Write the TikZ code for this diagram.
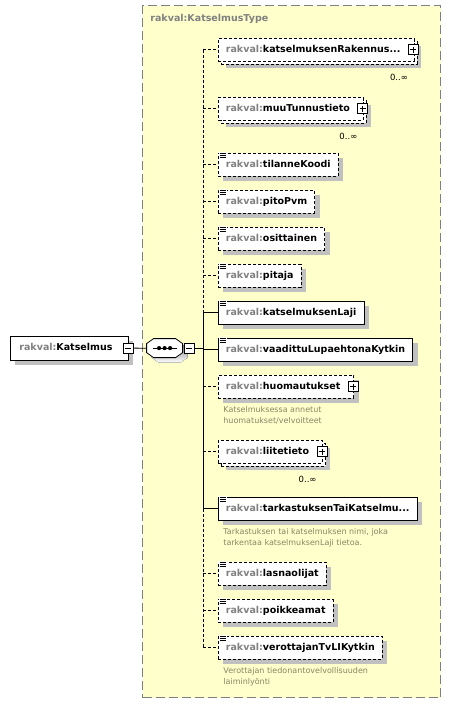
\documentclass[tikz,border=0pt]{standalone}
\usepackage{fontspec}
\setmainfont{DejaVu Sans}
\usetikzlibrary{positioning,shadows}
\definecolor{typefill}{RGB}{255,255,204}
\definecolor{pfx}{RGB}{128,128,128}
\definecolor{shade}{RGB}{192,192,192}
\definecolor{desccol}{RGB}{140,132,100}
\newcommand{\rkv}[1]{{\color{pfx}rakval:}#1}
\newcommand{\octpath}{(7,0) -- (29,0) -- (36,5) -- (36,14) -- (29,19) -- (7,19) -- (0,14) -- (0,5) -- cycle}
\begin{document}
\begin{tikzpicture}[x=1pt,y=-1pt,font=\fontsize{9.5}{11}\selectfont,line width=0.8pt,
  elem/.style={draw,fill=white,anchor=north west,minimum height=22.5pt,inner xsep=7.5pt,inner ysep=0pt,text height=7pt,text depth=2pt,font=\fontsize{9.5}{11}\selectfont\bfseries},
  sh/.style={drop shadow={shadow xshift=5pt,shadow yshift=-5pt,fill=shade,opacity=1}},
  multi/.style={drop shadow={shadow xshift=7.5pt,shadow yshift=-7.5pt,fill=shade,opacity=1},copy shadow={shadow xshift=3pt,shadow yshift=-3pt,draw,fill=white,#1}},
  opt/.style={dash pattern=on 3pt off 2pt},
  cplx/.style={execute at end node={\hspace{6pt}}},
  pm/.style={draw,solid,fill=white,minimum size=10pt,inner sep=0pt,line width=0.7pt},
  plus/.style={pm,path picture={\draw[line width=0.7pt] ([xshift=2pt]path picture bounding box.west) -- ++(6pt,0pt) ([yshift=-2pt]path picture bounding box.north) -- ++(0pt,-6pt);}},
  minus/.style={pm,path picture={\draw[line width=0.7pt] ([xshift=2pt]path picture bounding box.west) -- ++(6pt,0pt);}},
  desc/.style={text=desccol,align=left,inner sep=0pt,font=\fontsize{8}{11}\selectfont},
  occ/.style={inner sep=0pt,font=\fontsize{8.5}{10}\selectfont}]
\useasboundingbox (0,0) rectangle (450,705);
% type box
\node[draw=pfx,fill=typefill,dash pattern=on 9pt off 4pt,line width=1pt,anchor=north west,minimum width=298pt,minimum height=692pt,inner sep=0pt] (ktype) at (142,5) {};
\node[anchor=west,inner sep=0pt,text=pfx,font=\fontsize{9.5}{11}\selectfont\bfseries] (ktitle) at (150,19) {rakval:KatselmusType};
% root and sequence
\node[elem,sh,anchor=west,minimum height=24pt,inner xsep=9pt,execute at end node={\hspace{7pt}}] (root) at (10,348) {\rkv{Katselmus}};
\node[minus] (rmin) at ([xshift=-1pt]root.east) {};
\node[minimum width=36pt,minimum height=19pt,inner sep=0pt] (seq) at (165,348.5) {};
\begin{scope}[shift={(seq.north west)}]
  \fill[shade,shift={(5,5)}] \octpath;
  \filldraw[fill=white] \octpath;
  \draw[line width=1pt] (6,9.5) -- (30,9.5);
  \foreach \d in {12.5,18,23.5} \fill (\d,9.5) circle (2.1);
\end{scope}
\node[minus] (smin) at ([xshift=6pt]seq.east) {};
\coordinate (bus) at (203,348);
% children
\node[elem,opt,multi=opt,cplx] (rakennus) at (218,38) {\rkv{katselmuksenRakennus...}};
\node[elem,opt,multi=opt,cplx] (muutunnus) at (218,97) {\rkv{muuTunnustieto}};
\node[elem,opt,sh] (tilanne) at (218,153) {\rkv{tilanneKoodi}};
\node[elem,opt,sh] (pito) at (218,190) {\rkv{pitoPvm}};
\node[elem,opt,sh] (osittainen) at (218,227) {\rkv{osittainen}};
\node[elem,opt,sh] (pitaja) at (218,264) {\rkv{pitaja}};
\node[elem,sh] (laji) at (218,301) {\rkv{katselmuksenLaji}};
\node[elem,sh] (vaadittu) at (218,338) {\rkv{vaadittuLupaehtonaKytkin}};
\node[elem,opt,sh,cplx] (huom) at (218,375) {\rkv{huomautukset}};
\node[elem,opt,multi=opt,cplx] (liite) at (218,440) {\rkv{liitetieto}};
\node[elem,sh] (tarkastus) at (218,497) {\rkv{tarkastuksenTaiKatselmu...}};
\node[elem,opt,sh] (lasna) at (218,562) {\rkv{lasnaolijat}};
\node[elem,opt,sh] (poikkeamat) at (218,599) {\rkv{poikkeamat}};
\node[elem,opt,sh] (verottaja) at (218,636) {\rkv{verottajanTvLIKytkin}};
% plus boxes, occurrences, descriptions
\foreach \e in {rakennus,muutunnus,huom,liite} \node[plus] (\e-plus) at ([xshift=-1pt]\e.east) {};
\node[occ,below left=12pt and 6pt of rakennus.south east] (rakennus-occ) {0..∞};
\node[occ,below left=12pt and 6pt of muutunnus.south east] (muutunnus-occ) {0..∞};
\node[occ,below left=12pt and 6pt of liite.south east] (liite-occ) {0..∞};
\node[desc,below right=8pt and 5pt of huom.south west] (huom-desc) {Katselmuksessa annetut\\huomatukset/velvoitteet};
\node[desc,below right=8pt and 5pt of tarkastus.south west] (tarkastus-desc) {Tarkastuksen tai katselmuksen nimi, joka\\tarkentaa katselmuksenLaji tietoa.};
\node[desc,below right=8pt and 5pt of verottaja.south west] (verottaja-desc) {Verottajan tiedonantovelvollisuuden\\laiminlyönti};
% simple type icons
\foreach \e in {tilanne,pito,osittainen,pitaja,laji,vaadittu,tarkastus,lasna,poikkeamat,verottaja}{
  \fill[white] ([xshift=1pt,yshift=1pt]\e.north west) rectangle ++(8,6);
  \draw[line width=0.7pt] ([xshift=1.5pt,yshift=-0.5pt]\e.north west) -- ++(6,0) ++(-6,2) -- ++(6,0) ++(-6,2) -- ++(6,0);}
% connectors
\draw (rmin) -- (seq);
\draw (smin) -- (smin -| bus);
\draw[opt] (rakennus.west -| bus) -- (laji.west -| bus);
\draw (laji.west -| bus) -- (tarkastus.west -| bus);
\draw[opt] (tarkastus.west -| bus) -- (verottaja.west -| bus);
\foreach \e in {laji,vaadittu,tarkastus} \draw (\e.west -| bus) -- (\e.west);
\foreach \e in {rakennus,muutunnus,tilanne,pito,osittainen,pitaja,huom,liite,lasna,poikkeamat,verottaja} \draw[opt] (\e.west -| bus) -- (\e.west);
\end{tikzpicture}
\end{document}
